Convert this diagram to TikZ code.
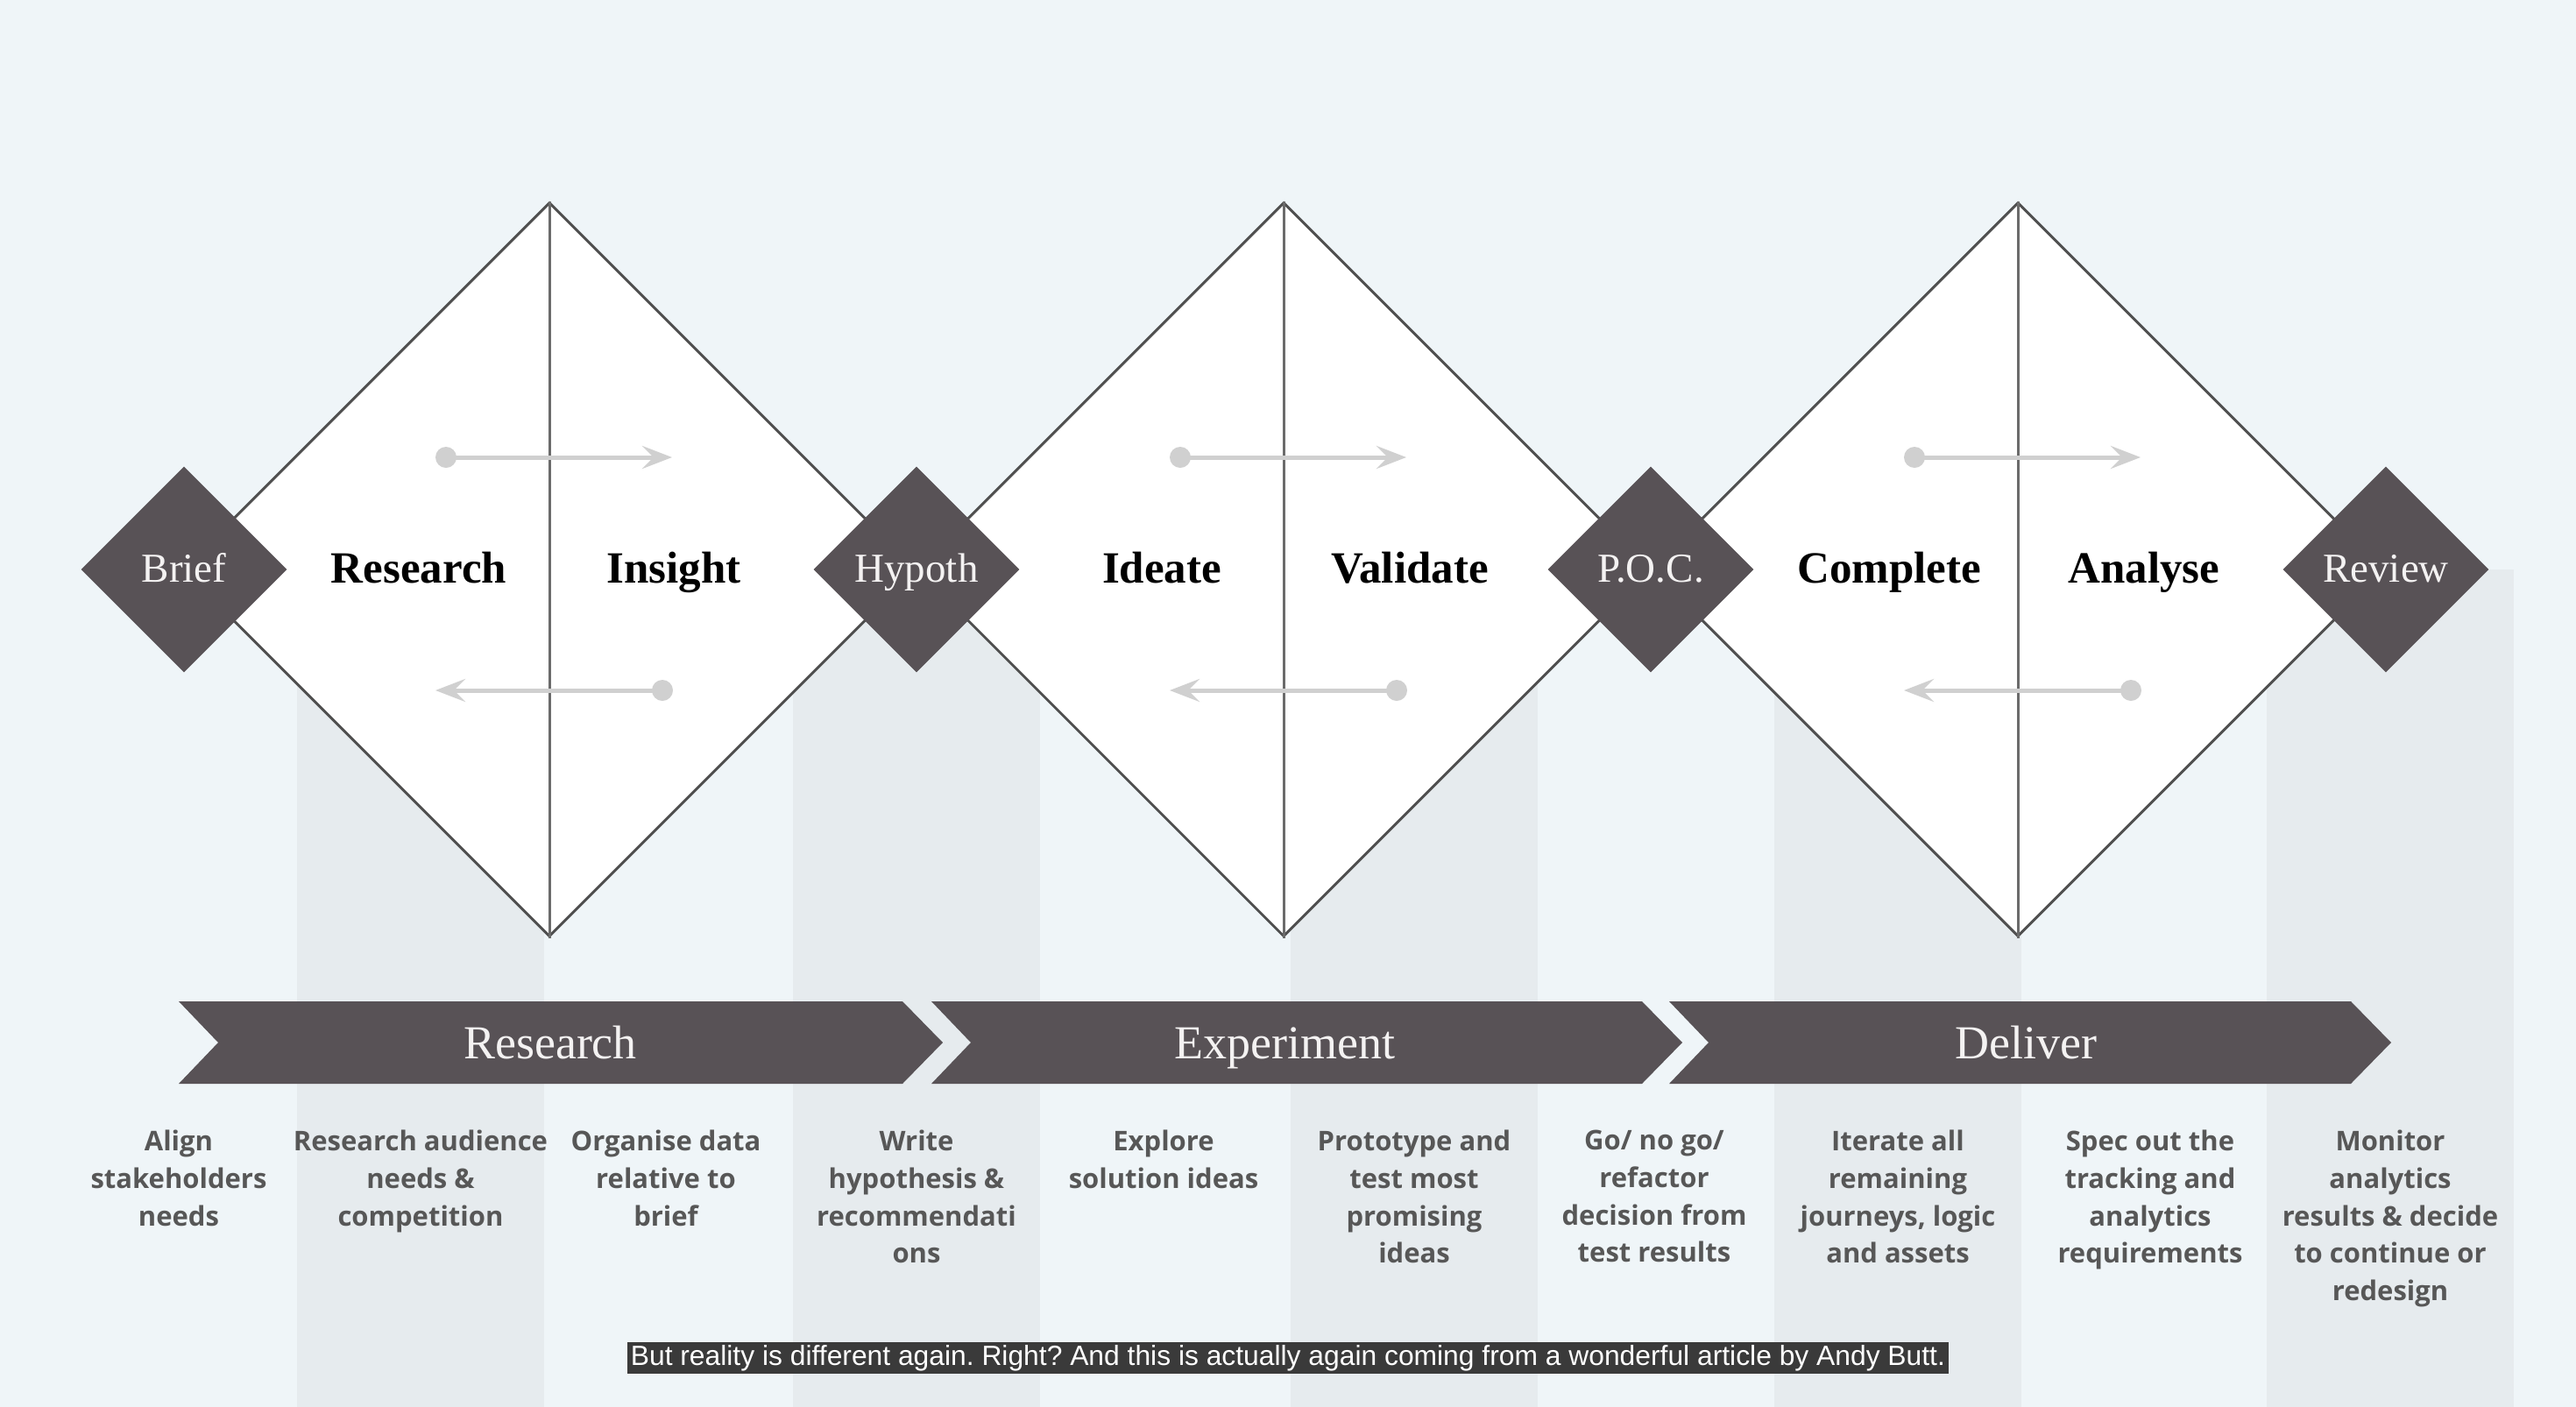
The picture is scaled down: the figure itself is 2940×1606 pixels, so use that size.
\documentclass[tikz,border=0pt]{standalone}
\usepackage{fontspec}
\usetikzlibrary{shapes.geometric,arrows.meta}

\newfontfamily\labelserif{Liberation Serif}
\newfontfamily\colsans{Open Sans}
\newfontfamily\capsans{Liberation Sans}

\definecolor{bgblue}{HTML}{EFF5F8}
\definecolor{bandgray}{HTML}{E6EBEE}
\definecolor{outline}{HTML}{505050}
\definecolor{midline}{HTML}{6B6B6B}
\definecolor{flowgray}{HTML}{D0D0D0}
\definecolor{darkfill}{HTML}{585256}
\definecolor{labelwhite}{HTML}{F4F2F2}
\definecolor{coltext}{HTML}{575757}
\definecolor{capbox}{HTML}{3A3A3A}

\begin{document}
\frenchspacing
\begin{tikzpicture}[x=1pt,y=-1pt,
  band/.style={fill=bandgray},
  bigdia/.style={diamond, aspect=1, minimum size=838pt, inner sep=0pt,
    draw=outline, line width=3pt, fill=white},
  smalldia/.style={diamond, aspect=1, minimum size=235pt, inner sep=0pt, fill=darkfill},
  smalllabel/.style={anchor=base, inner sep=0pt, text=labelwhite,
    font=\labelserif\fontsize{47}{50}\selectfont},
  phaselabel/.style={anchor=base, inner sep=0pt, text=black,
    font=\labelserif\bfseries\fontsize{51}{56}\selectfont},
  chevron/.style={fill=darkfill},
  chevlabel/.style={anchor=base, inner sep=0pt, text=labelwhite,
    font=\labelserif\fontsize{54}{60}\selectfont},
  midrule/.style={draw=midline, line width=3pt},
  flow/.style={draw=flowgray, line width=5pt,
    -{Stealth[length=34pt, width=26pt, inset=13pt]}},
  flowdot/.style={fill=flowgray},
  coltxt/.style={anchor=north, inner sep=0pt, align=center, text=coltext,
    font=\colsans\bfseries\fontsize{31}{42.7}\selectfont},
  caption/.style={fill=capbox, text=white, inner sep=0pt,
    minimum width=1508pt, minimum height=36pt}
]
\useasboundingbox (0,0) rectangle (2940,1606);
\fill[bgblue] (0,0) rectangle (2940,1606);

% shaded columns behind every second activity
\foreach \cx in {480,1046,1614,2166,2728}
  \fill[band] (\cx-141,650) rectangle (\cx+141,1606);

% the three large diamonds, split down the middle
\node[bigdia] (dA) at (627,650) {};
\node[bigdia] (dB) at (1465,650) {};
\node[bigdia] (dC) at (2303,650) {};
\foreach \d in {dA,dB,dC}
  \draw[midrule] (\d.north) -- (\d.south);

% diverge / converge arrows inside each diamond
\foreach \d/\cx in {A/627,B/1465,C/2303}{
  \coordinate (up\d s) at (\cx-118,522);
  \coordinate (up\d e) at (\cx+140,522);
  \coordinate (lo\d s) at (\cx+129,788);
  \coordinate (lo\d e) at (\cx-130,788);
  \draw[flow] (up\d s) -- (up\d e);
  \draw[flow] (lo\d s) -- (lo\d e);
  \fill[flowdot] (up\d s) circle (12pt);
  \fill[flowdot] (lo\d s) circle (12pt);
}

% milestone diamonds
\node[smalldia] (brief)  at (210,650)  {};
\node[smalldia] (hypoth) at (1046,650) {};
\node[smalldia] (poc)    at (1884,650) {};
\node[smalldia] (review) at (2723,650) {};
\node[smalllabel] (tbrief)  at (210,664)  {Brief};
\node[smalllabel] (thypoth) at (1046,664) {Hypoth};
\node[smalllabel] (tpoc)    at (1884,664) {P.O.C.};
\node[smalllabel] (treview) at (2723,664) {Review};

% phase names in the diamond halves
\node[phaselabel] (presearch) at (478,665)  {Research};
\node[phaselabel] (pinsight)  at (769,665)  {Insight};
\node[phaselabel] (pideate)   at (1326,665) {Ideate};
\node[phaselabel] (pvalidate) at (1609,665) {Validate};
\node[phaselabel] (pcomplete) at (2156,665) {Complete};
\node[phaselabel] (panalyse)  at (2447,665) {Analyse};

% stage chevrons
\fill[chevron] (204,1143) -- (1030,1143) -- (1076,1190) -- (1030,1237)
  -- (204,1237) -- (249,1190) -- cycle;
\fill[chevron] (1063,1143) -- (1874,1143) -- (1920,1190) -- (1874,1237)
  -- (1063,1237) -- (1108,1190) -- cycle;
\fill[chevron] (1905,1143) -- (2683,1143) -- (2729,1190) -- (2683,1237)
  -- (1905,1237) -- (1950,1190) -- cycle;
\node[chevlabel] (sresearch)   at (628,1208)  {Research};
\node[chevlabel] (sexperiment) at (1466,1208) {Experiment};
\node[chevlabel] (sdeliver)    at (2312,1208) {Deliver};

% activities under each step
\node[coltxt] (c1)  at (204,1290)  {Align\\stakeholders\\needs};
\node[coltxt] (c2)  at (480,1290)  {Research audience\\needs \&\\competition};
\node[coltxt] (c3)  at (760,1290)  {Organise data\\relative to\\brief};
\node[coltxt] (c4)  at (1046,1290) {Write\\hypothesis \&\\recommendati\\ons};
\node[coltxt] (c5)  at (1328,1290) {Explore\\solution ideas};
\node[coltxt] (c6)  at (1614,1290) {Prototype and\\test most\\promising\\ideas};
\node[coltxt] (c7)  at (1888,1290) {Go/ no go/\\refactor\\decision from\\test results};
\node[coltxt] (c8)  at (2166,1290) {Iterate all\\remaining\\journeys, logic\\and assets};
\node[coltxt] (c9)  at (2454,1290) {Spec out the\\tracking and\\analytics\\requirements};
\node[coltxt] (c10) at (2728,1290) {Monitor\\analytics\\results \& decide\\to continue or\\redesign};

% subtitle strip
\node[caption] (sub) at (1470,1550)
  {\resizebox{1500pt}{23pt}{\capsans But reality is different again. Right? And this is actually again coming from a wonderful article by Andy Butt.}};
\end{tikzpicture}
\end{document}
